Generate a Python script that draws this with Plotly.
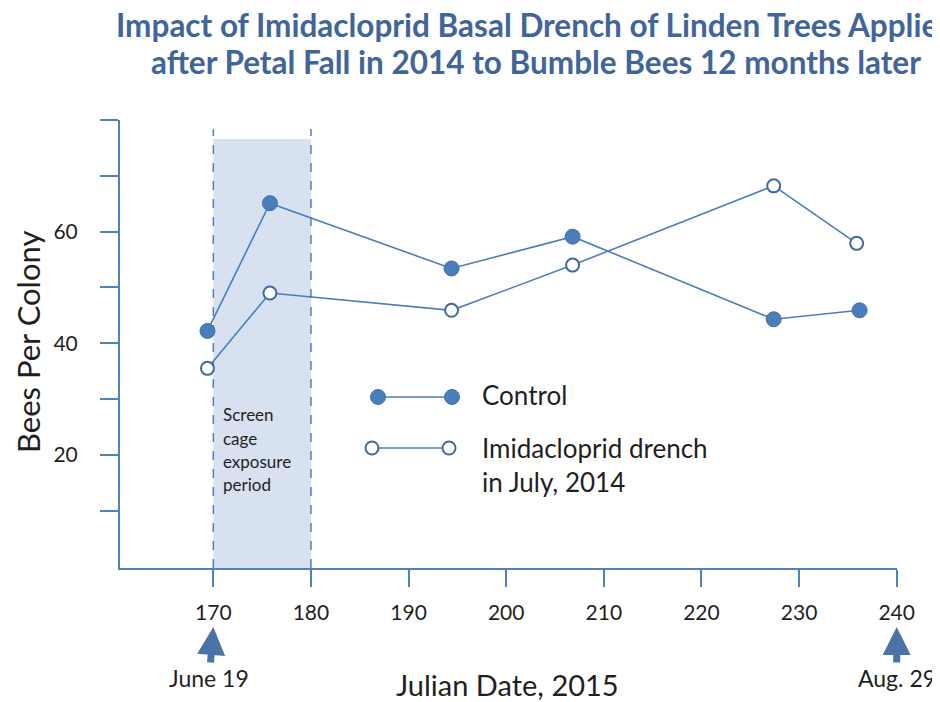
import plotly.graph_objects as go

# ---- data ----
control_days = [169.4, 175.8, 194.4, 206.8, 227.4, 236.2]
control_bees = [42.2, 65.1, 53.4, 59.1, 44.3, 45.9]
drench_days = [169.4, 175.8, 194.4, 206.8, 227.4, 235.9]
drench_bees = [35.5, 49.0, 45.9, 54.0, 68.2, 57.9]

x_ticks = [170, 180, 190, 200, 210, 220, 230, 240]
y_ticks = [10, 20, 30, 40, 50, 60, 70, 80]
y_tick_text = ["", "20", "", "40", "", "60", "", ""]

title_lines = ["Impact of Imidacloprid Basal Drench of Linden Trees Applied",
               "after Petal Fall in 2014 to Bumble Bees 12 months later"]
series_names = ["Control", "Imidacloprid drench", "in July, 2014"]
exposure_start, exposure_end = 170, 180
exposure_text = ["Screen", "cage", "exposure", "period"]

# page has an 8px body margin: work in screen pixels and shift
OFF = 8
W, H = 940 - OFF, 702 - OFF
L, T = 120 - OFF, 120 - OFF
R = W - (897 - OFF)
B = H - (568 - OFF)
PW, PH = W - L - R, H - T - B
FONT = "Lato"
BLUE = "#4a7ebb"
AXIS = "#4f81bd"
TXT = "#1f1f1f"


def px(xp):
    return (xp - OFF - L) / PW


def py(yp):
    return (H - B - (yp - OFF)) / PH


fig = go.Figure()

fig.add_trace(go.Scatter(
    x=control_days, y=control_bees, mode="lines+markers", name="Control",
    line=dict(color=BLUE, width=1.6),
    marker=dict(size=15, color=BLUE, line=dict(color="#3f6fa8", width=1)),
    showlegend=False))
fig.add_trace(go.Scatter(
    x=drench_days, y=drench_bees, mode="lines+markers", name="Imidacloprid drench",
    line=dict(color=BLUE, width=1.6),
    marker=dict(size=13, color="white", line=dict(color="#41699f", width=2)),
    showlegend=False))

shapes = []
shapes.append(dict(type="rect", xref="x", yref="paper", x0=exposure_start, x1=exposure_end,
                   y0=0, y1=py(139), fillcolor="#d7e1ef", line=dict(width=0), layer="below"))
for xv in (exposure_start, exposure_end):
    shapes.append(dict(type="line", xref="x", yref="paper", x0=xv, x1=xv, y0=0, y1=py(129),
                       line=dict(color=AXIS, width=1.5, dash="dash"), layer="below"))

# custom legend
shapes.append(dict(type="line", xref="paper", yref="paper", x0=px(378), x1=px(452),
                   y0=py(397), y1=py(397), line=dict(color=BLUE, width=1.6)))
for cx in (378, 452):
    r = 7.5
    shapes.append(dict(type="circle", xref="paper", yref="paper",
                       x0=px(cx - r), x1=px(cx + r), y0=py(397 + r), y1=py(397 - r),
                       fillcolor=BLUE, line=dict(color="#3f6fa8", width=1)))
shapes.append(dict(type="line", xref="paper", yref="paper", x0=px(372), x1=px(449),
                   y0=py(448), y1=py(448), line=dict(color=BLUE, width=1.6)))
for cx in (372, 449):
    r = 6.5
    shapes.append(dict(type="circle", xref="paper", yref="paper",
                       x0=px(cx - r), x1=px(cx + r), y0=py(448 + r), y1=py(448 - r),
                       fillcolor="white", line=dict(color="#41699f", width=2)))

annotations = []
for t, yp in zip(title_lines, (25, 62)):
    annotations.append(dict(text="<b>" + t + "</b>", xref="paper", yref="paper",
                            x=px(536), y=py(yp), xanchor="center", yanchor="middle",
                            showarrow=False, font=dict(family=FONT, size=31.5, color="#41659a")))
annotations.append(dict(text=series_names[0], xref="paper", yref="paper", x=px(480), y=py(395),
                        xanchor="left", yanchor="middle", showarrow=False,
                        font=dict(family=FONT, size=26, color=TXT)))
annotations.append(dict(text=series_names[1], xref="paper", yref="paper", x=px(480), y=py(448),
                        xanchor="left", yanchor="middle", showarrow=False,
                        font=dict(family=FONT, size=26, color=TXT)))
annotations.append(dict(text=series_names[2], xref="paper", yref="paper", x=px(480), y=py(482),
                        xanchor="left", yanchor="middle", showarrow=False,
                        font=dict(family=FONT, size=26, color=TXT)))
for t, yp in zip(exposure_text, (414, 438, 461, 484)):
    annotations.append(dict(text=t, xref="paper", yref="paper", x=px(221), y=py(yp),
                            xanchor="left", yanchor="middle", showarrow=False,
                            font=dict(family=FONT, size=17, color=TXT)))
annotations.append(dict(text="Julian Date, 2015", xref="paper", yref="paper", x=px(507), y=py(684),
                        xanchor="center", yanchor="middle", showarrow=False,
                        font=dict(family=FONT, size=29, color=TXT)))
annotations.append(dict(text="Bees Per Colony", xref="paper", yref="paper", x=px(28), y=py(342),
                        xanchor="center", yanchor="middle", showarrow=False, textangle=-90,
                        font=dict(family=FONT, size=31, color=TXT)))
for xv, label, xs in ((170, "June 19", -4), (240, "Aug. 29", 0)):
    annotations.append(dict(text=label, xref="x", yref="paper", x=xv, y=py(627),
                            ax=xs, ay=51, showarrow=True, arrowhead=2, arrowsize=0.8,
                            arrowwidth=7, arrowcolor="#4a73a8", standoff=0,
                            font=dict(family=FONT, size=23, color=TXT)))

fig.update_layout(
    width=W, height=H, margin=dict(l=L, r=R, t=T, b=B, autoexpand=False),
    paper_bgcolor="white", plot_bgcolor="white",
    shapes=shapes, annotations=annotations,
    font=dict(family=FONT, color=TXT),
    xaxis=dict(range=[160.44, 240.03], tickvals=x_ticks, ticks="outside", ticklen=17,
               tickwidth=2, tickcolor=AXIS, showline=True, linecolor=AXIS, linewidth=2,
               showgrid=False, zeroline=False, ticklabelstandoff=8,
               tickfont=dict(family=FONT, size=21, color=TXT)),
    yaxis=dict(range=[-0.27, 80], tickvals=y_ticks, ticktext=y_tick_text, ticks="outside",
               ticklen=18, tickwidth=2, tickcolor=AXIS, showline=True, linecolor=AXIS,
               linewidth=2, showgrid=False, zeroline=False, ticklabelstandoff=18,
               tickfont=dict(family=FONT, size=21, color=TXT)),
)

fig.write_html("out.html")
